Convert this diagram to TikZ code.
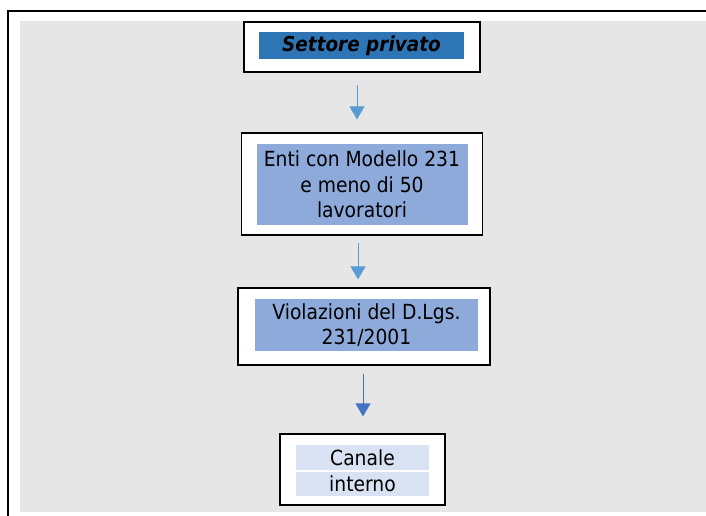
\documentclass[tikz,border=0pt]{standalone}
\usepackage{fontspec}
\setmainfont{DejaVu Sans Condensed}
\usetikzlibrary{arrows.meta}
\definecolor{bggray}{HTML}{E6E6E6}
\definecolor{darkfill}{HTML}{2E75B6}
\definecolor{midfill}{HTML}{8EAADB}
\definecolor{lightfill}{HTML}{D9E2F3}
\definecolor{arrlight}{HTML}{5B9BD5}
\definecolor{arrdark}{HTML}{4472C4}
\tikzset{
  fillbox/.style={fill=#1, inner sep=0pt, align=center},
  txt/.style={font=\fontsize{20.8}{25.5}\selectfont},
  framebox/.style={draw=black, line width=1.2pt, fill=white, inner sep=0pt},
  arrowline/.style={draw=#1, line width=1pt, -{Triangle[width=15pt,length=13pt]}},
}
\begin{document}
\begin{tikzpicture}[x=1pt,y=-1pt]
\useasboundingbox (0,0) rectangle (706,516);
% outer frame and background
\fill[bggray] (20,21) rectangle (706,512);
\draw[black, line width=2pt] (8,520) -- (8,11) -- (710,11);
% box 1
\node[framebox, minimum width=236pt, minimum height=50pt] (o1) at (362,47) {};
\node[fillbox=darkfill, minimum width=205pt, minimum height=27pt, font=\fontsize{20.5}{23}\selectfont\bfseries\itshape] (i1) at (361.5,45.5) {Settore privato};
% box 2
\node[framebox, minimum width=241pt, minimum height=102pt] (o2) at (362,184) {};
\node[fillbox=midfill, minimum width=211pt, minimum height=81pt, txt] (i2) at (362,184.5) {Enti con Modello 231\\e meno di 50\\lavoratori};
% box 3
\node[framebox, minimum width=252pt, minimum height=77pt] (o3) at (364,326.5) {};
\node[fillbox=midfill, minimum width=223pt, minimum height=52pt, txt] (i3) at (366.5,325) {Violazioni del D.Lgs.\\231/2001};
% box 4
\node[framebox, minimum width=165pt, minimum height=71pt] (o4) at (362.5,469.5) {};
\node[fillbox=lightfill, minimum width=133pt, minimum height=25pt, txt] (i4a) at (362.5,457.8) {Canale};
\node[fillbox=lightfill, minimum width=133pt, minimum height=24pt, txt, anchor=north] (i4b) at ([yshift=-1pt]i4a.south) {interno};
% arrows
\draw[arrowline=arrlight, shorten <=12pt, shorten >=13pt] ([xshift=-5pt]o1.south) -- ([xshift=-5pt]o1.south |- o2.north);
\draw[arrowline=arrlight, shorten <=7pt, shorten >=8pt] ([xshift=-4pt]o2.south) -- ([xshift=-4pt]o2.south |- o3.north);
\draw[arrowline=arrdark, shorten <=8pt, shorten >=17pt] ([xshift=-1pt]o3.south) -- ([xshift=-1pt]o3.south |- o4.north);
\end{tikzpicture}
\end{document}
